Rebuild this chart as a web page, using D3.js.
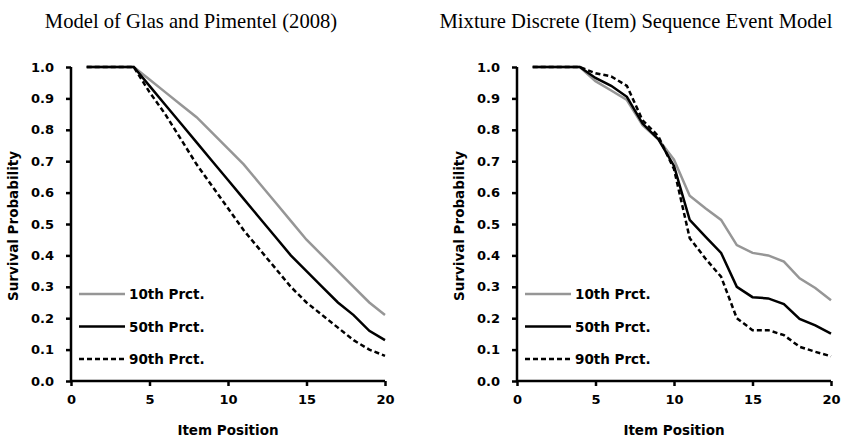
<!DOCTYPE html>
<html>
<head>
<meta charset="utf-8">
<script src="https://cdn.jsdelivr.net/npm/d3@7"></script>
<style>
  body { margin: 0; background: #fff; }
  svg { display: block; }
  .tick text, .lab { font-family: "DejaVu Sans", sans-serif; font-weight: bold; fill: #000; }
  .ttl { font-family: "Liberation Serif", "Times New Roman", serif; fill: #000; }
</style>
</head>
<body>
<svg id="chart" width="843" height="437"></svg>
<script>
// item positions 1..20
var positions = [1, 2, 3, 4, 5, 6, 7, 8, 9, 10, 11, 12, 13, 14, 15, 16, 17, 18, 19, 20];

// Model of Glas and Pimentel (2008)
var glasP10 = [1, 1, 1, 1, 0.96, 0.92, 0.88, 0.84, 0.79, 0.74, 0.69, 0.63, 0.57, 0.51, 0.45, 0.40, 0.35, 0.30, 0.25, 0.21];
var glasP50 = [1, 1, 1, 1, 0.94, 0.88, 0.82, 0.76, 0.70, 0.64, 0.58, 0.52, 0.46, 0.40, 0.35, 0.30, 0.25, 0.21, 0.16, 0.13];
var glasP90 = [1, 1, 1, 1, 0.92, 0.85, 0.77, 0.69, 0.62, 0.55, 0.48, 0.42, 0.36, 0.30, 0.25, 0.21, 0.17, 0.13, 0.10, 0.08];

// Mixture Discrete (Item) Sequence Event Model
var mixP10 = [1, 1, 1, 1, 0.955, 0.925, 0.895, 0.815, 0.77, 0.705, 0.59, 0.55, 0.513, 0.433, 0.408, 0.40, 0.38, 0.327, 0.296, 0.257];
var mixP50 = [1, 1, 1, 1, 0.965, 0.94, 0.905, 0.82, 0.77, 0.685, 0.513, 0.46, 0.408, 0.30, 0.267, 0.263, 0.245, 0.198, 0.177, 0.151];
var mixP90 = [1, 1, 1, 1, 0.98, 0.97, 0.94, 0.83, 0.78, 0.675, 0.455, 0.39, 0.332, 0.20, 0.162, 0.162, 0.146, 0.109, 0.093, 0.079];

var seriesNames = ["10th Prct.", "50th Prct.", "90th Prct."];
var xTicks = [0, 5, 10, 15, 20];
var yTicks = [0, 0.1, 0.2, 0.3, 0.4, 0.5, 0.6, 0.7, 0.8, 0.9, 1.0];

var styles = [
    {color: "#969696", dash: null},
    {color: "#000", dash: null},
    {color: "#000", dash: "5,3"}
];

var svg = d3.select("#chart");

function drawPanel(left, title, titleX, seriesList) {
    var x = d3.scaleLinear().domain([0, 20]).range([left, left + 314]),
        y = d3.scaleLinear().domain([0, 1]).range([381, 67]);

    var g = svg.append("g");

    g.append("text")
        .attr("class", "ttl")
        .attr("x", titleX)
        .attr("y", 28)
        .attr("text-anchor", "middle")
        .style("font-size", "20.6px")
        .text(title);

    var xa = g.append("g")
        .attr("transform", "translate(0,381)")
        .call(d3.axisBottom(x).tickValues(xTicks).tickSize(5).tickPadding(9).tickFormat(d3.format("d")));
    var ya = g.append("g")
        .attr("transform", "translate(" + left + ",0)")
        .call(d3.axisLeft(y).tickValues(yTicks).tickSize(5).tickPadding(12).tickFormat(d3.format(".1f")));

    [xa, ya].forEach(function(a) {
        a.select(".domain").attr("stroke", "#000").attr("stroke-width", 2.5);
        a.selectAll(".tick line").attr("stroke", "#000").attr("stroke-width", 2.5);
        a.selectAll(".tick text").style("font-size", "13px");
    });
    // plain axis lines without end ticks
    xa.select(".domain").attr("d", "M" + left + ",0H" + (left + 314));
    ya.select(".domain").attr("d", "M0,381V67");

    g.append("text")
        .attr("class", "lab")
        .attr("x", left + 157)
        .attr("y", 435)
        .attr("text-anchor", "middle")
        .style("font-size", "13.5px")
        .text("Item Position");

    g.append("text")
        .attr("class", "lab")
        .attr("transform", "translate(" + (left - 53) + ",226) rotate(-90)")
        .attr("text-anchor", "middle")
        .style("font-size", "13.5px")
        .text("Survival Probability");

    var line = d3.line()
        .x(function(d, i) { return x(positions[i]); })
        .y(function(d) { return y(d); });

    seriesList.forEach(function(vals, k) {
        g.append("path")
            .datum(vals)
            .attr("fill", "none")
            .attr("stroke", styles[k].color)
            .attr("stroke-width", 2.5)
            .attr("stroke-dasharray", styles[k].dash)
            .attr("d", line);
    });

    // legend
    seriesNames.forEach(function(name, k) {
        var ly = 294 + k * 32.5;
        g.append("line")
            .attr("x1", left + 8)
            .attr("x2", left + 54)
            .attr("y1", ly)
            .attr("y2", ly)
            .attr("stroke", styles[k].color)
            .attr("stroke-width", 2.5)
            .attr("stroke-dasharray", styles[k].dash);
        g.append("text")
            .attr("class", "lab")
            .attr("x", left + 58)
            .attr("y", ly + 5)
            .style("font-size", "13.5px")
            .text(name);
    });
}

drawPanel(71, "Model of Glas and Pimentel (2008)", 191, [glasP10, glasP50, glasP90]);
drawPanel(517, "Mixture Discrete (Item) Sequence Event Model", 636, [mixP10, mixP50, mixP90]);
</script>
</body>
</html>
